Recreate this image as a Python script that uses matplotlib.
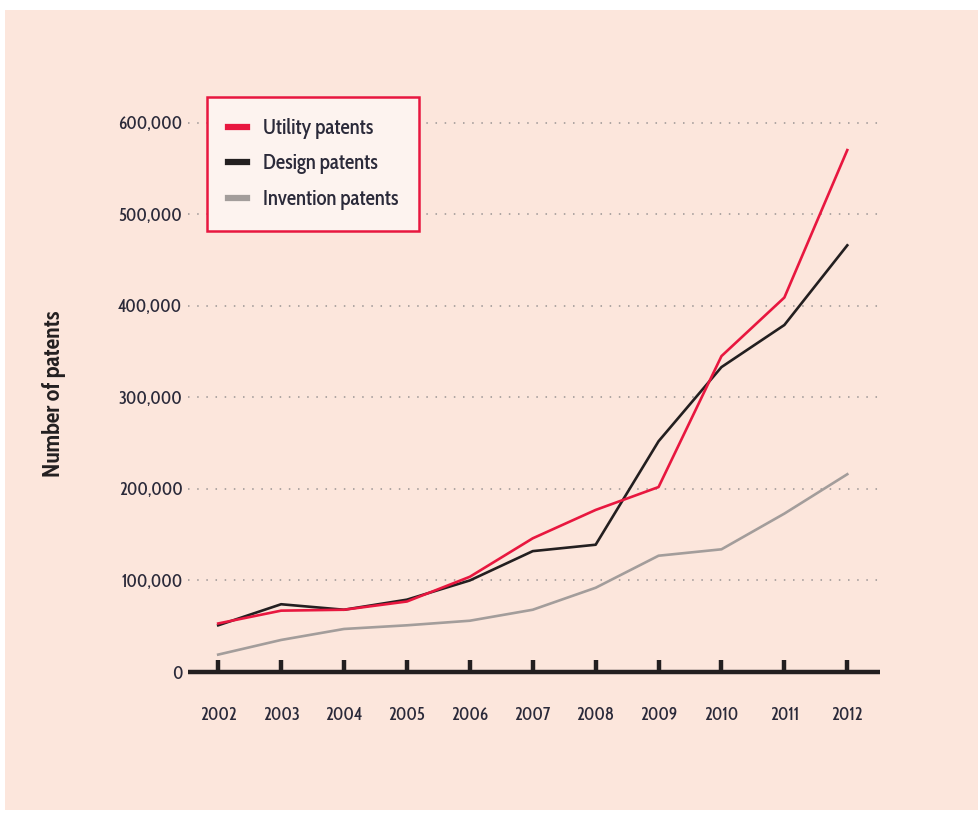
import matplotlib
matplotlib.use("Agg")
import matplotlib.pyplot as plt
from matplotlib.patches import Rectangle
from matplotlib.ticker import FuncFormatter

plt.rcParams['font.family'] = ['Cabin Condensed', 'DejaVu Sans']
plt.rcParams['font.weight'] = 500

years = list(range(2002, 2013))
utility = [53000, 67000, 68000, 77000, 104000, 146000, 177000, 202000, 345000, 409000, 570000]
design = [51000, 74000, 68000, 79000, 100000, 132000, 139000, 252000, 333000, 379000, 466000]
invention = [19000, 35000, 47000, 51000, 56000, 68000, 92000, 127000, 134000, 173000, 216000]
yticks = [0, 100000, 200000, 300000, 400000, 500000, 600000]

text_col = "#2b2a3a"
bg = "#fce6dc"

fig = plt.figure(figsize=(9.79, 8.13), dpi=100, facecolor="white")
fig.patches.append(Rectangle((5 / 979, 3 / 813), 1, 1 - 13 / 813,
                             transform=fig.transFigure, facecolor=bg,
                             edgecolor="none", zorder=-10))

ax = fig.add_axes([188 / 979, 1 - 672 / 813, (880 - 188) / 979, (672 - 86) / 813])
ax.set_facecolor("none")

ax.plot(years, invention, color="#a39d9b", lw=1.9, label="Invention patents", zorder=3)
ax.plot(years, design, color="#231f20", lw=1.9, label="Design patents", zorder=4)
ax.plot(years, utility, color="#e8173f", lw=1.9, label="Utility patents", zorder=5)

ax.set_xlim(2001.52, 2012.52)
ax.set_ylim(0, 640000)

for s in ["top", "right", "left"]:
    ax.spines[s].set_visible(False)
ax.spines["bottom"].set_linewidth(3.2)
ax.spines["bottom"].set_color("#231f20")
ax.spines["bottom"].set_capstyle("butt")

ax.set_xticks(years)
ax.tick_params(axis="x", direction="in", length=9, width=3.2, color="#231f20",
               pad=25, labelsize=12.5, labelcolor=text_col)
ax.set_yticks(yticks)
ax.yaxis.set_major_formatter(FuncFormatter(lambda v, p: f"{int(v):,}"))
ax.tick_params(axis="y", length=0, pad=4, labelsize=12.5, labelcolor=text_col)

for v in yticks[1:]:
    ax.axhline(v, color="#9a9494", lw=1.1, ls=(0, (1, 5)), zorder=1)

ax.set_ylabel("Number of patents", fontsize=17, fontweight="bold",
              color="#231f20", labelpad=0)
ax.yaxis.set_label_coords(-122 / 692, 0.475)

handles, labels = ax.get_legend_handles_labels()
order = [2, 1, 0]
leg = ax.legend([handles[i] for i in order], [labels[i] for i in order],
                loc="upper left", bbox_to_anchor=(207 / 979, 1 - 97 / 813),
                bbox_transform=fig.transFigure, borderaxespad=0, fontsize=15,
                handlelength=0.9, handletextpad=0.8, labelspacing=0.7,
                borderpad=1.0, fancybox=False, framealpha=1)
leg.get_frame().set_edgecolor("#e8173f")
leg.get_frame().set_linewidth(1.8)
leg.get_frame().set_facecolor("#fdf3ef")
for line in leg.get_lines():
    line.set_linewidth(4.5)
for t in leg.get_texts():
    t.set_color(text_col)

fig.savefig("out.png", dpi=100, facecolor=fig.get_facecolor())
